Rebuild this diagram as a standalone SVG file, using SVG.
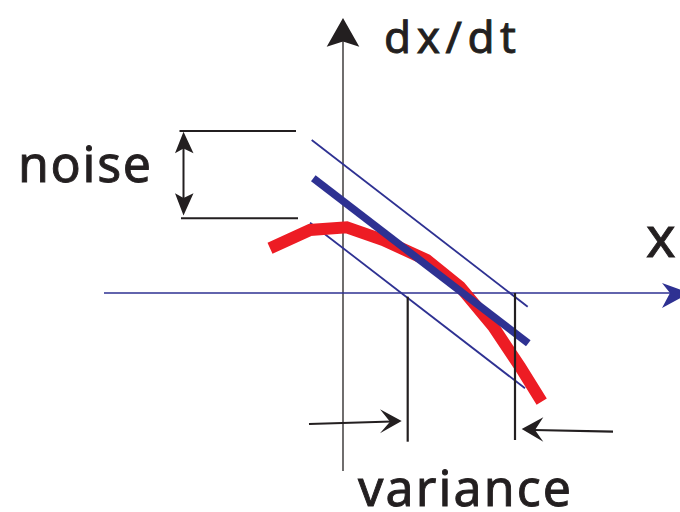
<svg xmlns="http://www.w3.org/2000/svg" width="680" height="512" viewBox="0 0 680 512">
<style>
.txt{font-family:"Noto Sans","Liberation Sans",sans-serif;fill:#231f20;stroke:#231f20;stroke-width:0.9}
.blk{stroke:#231f20;fill:none}
.blu{stroke:#2e3192;fill:none}
.head{fill:#231f20;stroke:none}
</style>
<rect width="680" height="512" fill="#ffffff"/>
<g id="axes">
  <line class="blk" x1="343" y1="471" x2="343" y2="40" stroke-width="1.3"/>
  <path class="head" d="M343,18 L359.3,46.7 L343,41.5 L326.7,46.7 Z"/>
  <line class="blu" x1="104" y1="293" x2="672" y2="293" stroke-width="1.4"/>
  <path d="M690,293 L662,308 L670,293 L662,283 Z" fill="#2e3192"/>
  <text class="txt" x="384" y="53" font-size="44" textLength="132" lengthAdjust="spacing">dx/dt</text>
  <text class="txt" x="646" y="257" font-size="56">x</text>
</g>
<g id="fit-band">
  <line class="blu" x1="311.7" y1="140" x2="527.7" y2="306.7" stroke-width="1.8"/>
  <line class="blu" x1="310" y1="222.7" x2="525" y2="388.3" stroke-width="1.8"/>
</g>
<g id="data-curve">
  <polyline points="270,248.3 310,230 346.7,227.3 383.3,240 426.7,260 460,286.7 493.3,326.7 520,366.7 541.7,401.7" fill="none" stroke="#ed1c24" stroke-width="12" stroke-linejoin="miter"/>
</g>
<g id="fit-line">
  <line x1="313.3" y1="178.3" x2="528.3" y2="343.3" stroke="#2e3192" stroke-width="7.5"/>
</g>
<g id="noise">
  <line class="blk" x1="179.5" y1="131" x2="296" y2="131" stroke-width="2"/>
  <line class="blk" x1="181" y1="218.3" x2="298" y2="218.3" stroke-width="2"/>
  <line class="blk" x1="183.5" y1="145" x2="183.5" y2="202" stroke-width="2"/>
  <path class="head" d="M183.5,131.7 L193.5,153.3 L183.5,148.5 L175,153.3 Z"/>
  <path class="head" d="M183.5,215.5 L193.5,193.3 L183.5,198 L175,193.3 Z"/>
  <text class="txt" x="18" y="182" font-size="50" textLength="133" lengthAdjust="spacing">noise</text>
</g>
<g id="variance">
  <line class="blk" x1="407.7" y1="296.7" x2="407.7" y2="441.7" stroke-width="2.2"/>
  <line class="blk" x1="515" y1="293" x2="515" y2="440" stroke-width="2.2"/>
  <line class="blk" x1="309" y1="424" x2="392" y2="421.5" stroke-width="2.2"/>
  <path class="head" d="M401.7,421 L380,433.3 L390,421.7 L380,409.3 Z"/>
  <line class="blk" x1="613" y1="431.7" x2="534" y2="430" stroke-width="2.2"/>
  <path class="head" d="M521.7,429 L543.3,417.3 L535,430 L543.3,441.7 Z"/>
  <text class="txt" x="358" y="506" font-size="50" textLength="213" lengthAdjust="spacing">variance</text>
</g>
</svg>
